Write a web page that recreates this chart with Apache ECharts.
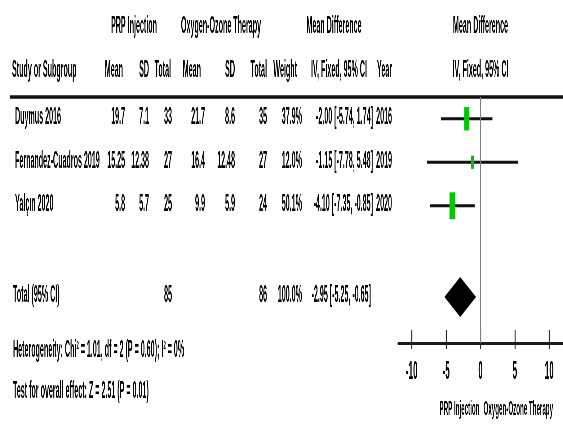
<!DOCTYPE html>
<html>
<head>
<meta charset="utf-8">
<script src="https://cdn.jsdelivr.net/npm/echarts@6/dist/echarts.min.js"></script>
<style>
html,body{margin:0;padding:0;background:#fff;overflow:hidden;width:563px;height:425px;}
#chart{height:425px;transform-origin:0 0;}
</style>
</head>
<body>
<div id="chart"></div>
<script>
// ---- data ----
const studies = ['Duymus 2016', 'Fernandez-Cuadros 2019', 'Yalçın 2020'];
const prpMean = ['19.7', '15.25', '5.8'];
const prpSD = ['7.1', '12.38', '5.7'];
const prpTotal = [33, 27, 25];
const ozoneMean = ['21.7', '16.4', '9.9'];
const ozoneSD = ['8.6', '12.48', '5.9'];
const ozoneTotal = [35, 27, 24];
const weights = [37.9, 12.0, 50.1];
const meanDiff = [-2.00, -1.15, -4.10];
const ciLow = [-5.74, -7.78, -7.35];
const ciHigh = [1.74, 5.48, -0.85];
const years = [2016, 2019, 2020];
const totalPrp = 85;
const totalOzone = 86;
const totalWeight = 100.0;
const totalMD = -2.95;
const totalLow = -5.25;
const totalHigh = -0.65;
const xTicks = [-10, -5, 0, 5, 10];
const heterogeneity = 'Heterogeneity: Chi² = 1.01, df = 2 (P = 0.60); I² = 0%';
const overallEffect = 'Test for overall effect: Z = 2.51 (P = 0.01)';
const leftLabel = 'PRP Injection';
const rightLabel = 'Oxygen-Ozone Therapy';

// ---- layout ----
const S = 0.31;             // horizontal condensation of the picture
const W = 563 / S;
const X = v => v / S;       // picture px -> internal px
const rowPos = [0.5, 1.5, 2.5];
const totalRow = 4.6;
const FONT = '"Liberation Sans", Arial, sans-serif';
const FS = 23;
const SH = 2.2;             // horizontal text thickening
const el = document.getElementById('chart');
el.style.width = W + 'px';
el.style.transform = 'scaleX(' + S + ')';

const chart = echarts.init(el, null, {renderer: 'canvas'});

const fmt = v => v.toFixed(2);
const ciText = (m, l, h) => fmt(m) + ' [' + fmt(l) + ', ' + fmt(h) + ']';

const studyData = studies.map((s, i) => [rowPos[i], meanDiff[i], ciLow[i], ciHigh[i], weights[i]]);
const gridBox = {left: X(398), right: 0, top: 97, bottom: 82, containLabel: false};

chart.setOption({
  animation: false,
  grid: [Object.assign({}, gridBox), Object.assign({}, gridBox)],
  xAxis: [{
    gridIndex: 0, type: 'value', min: -12, max: 12, position: 'bottom',
    axisLine: {show: true, onZero: false, lineStyle: {color: '#1a1a1a', width: 3}},
    axisTick: {show: true, inside: true, length: 13, customValues: xTicks, lineStyle: {color: '#222', width: 1 / S}},
    axisLabel: {show: true, customValues: xTicks, margin: 16, fontSize: 26, fontFamily: FONT, fontWeight: 'bold', color: '#000',
      textShadowColor: '#000', textShadowOffsetX: SH, textShadowBlur: 0},
    splitLine: {show: false}
  }, {
    gridIndex: 1, type: 'value', min: -12, max: 12, position: 'bottom',
    axisLine: {show: false, onZero: false},
    axisTick: {show: true, inside: false, length: 6, customValues: xTicks, lineStyle: {color: '#222', width: 1 / S}},
    axisLabel: {show: false},
    splitLine: {show: false}
  }],
  yAxis: [
    {gridIndex: 0, type: 'value', min: 0, max: 246 / 43.5, inverse: true, show: false},
    {gridIndex: 1, type: 'value', min: 0, max: 1, show: false}
  ],
  series: [{
    type: 'custom',
    xAxisIndex: 0, yAxisIndex: 0,
    data: studyData,
    encode: {x: [1, 2, 3], y: 0},
    renderItem: function (params, api) {
      const row = api.value(0), m = api.value(1), lo = api.value(2), hi = api.value(3), w = api.value(4);
      const p0 = api.coord([lo, row]);
      const p1 = api.coord([hi, row]);
      const pc = api.coord([m, row]);
      const h = 3.8 * Math.sqrt(w);
      const bw = 0.21 * h / S;
      return {
        type: 'group',
        children: [
          {type: 'line', shape: {x1: p0[0], y1: p0[1], x2: p1[0], y2: p1[1]}, style: {stroke: '#111', lineWidth: 3}},
          {type: 'rect', shape: {x: pc[0] - bw / 2, y: pc[1] - h / 2, width: bw, height: h}, style: {fill: '#00c800'}}
        ]
      };
    }
  }, {
    type: 'custom',
    xAxisIndex: 0, yAxisIndex: 0,
    data: [[totalRow, totalMD, totalLow, totalHigh]],
    encode: {x: [1, 2, 3], y: 0},
    renderItem: function (params, api) {
      const row = api.value(0), m = api.value(1), lo = api.value(2), hi = api.value(3);
      const a = api.coord([lo, row]), b = api.coord([m, row]), c = api.coord([hi, row]);
      const hh = 20;
      return {
        type: 'polygon',
        shape: {points: [[a[0], a[1]], [b[0], b[1] - hh], [c[0], c[1]], [b[0], b[1] + hh]]},
        style: {fill: '#000'}
      };
    },
    markLine: {
      silent: true, symbol: 'none', label: {show: false},
      lineStyle: {color: '#808080', width: 1 / S, type: 'solid'},
      data: [{xAxis: 0}]
    }
  }]
});

// ---- table text ----
const g = [];
function txt(str, x, y, align, size) {
  g.push({type: 'text', x: X(x), y: y, silent: true,
    style: {text: str, fill: '#000', font: 'bold ' + (size || FS) + 'px ' + FONT, textAlign: align || 'left', textVerticalAlign: 'middle',
      textShadowColor: '#000', textShadowOffsetX: SH, textShadowBlur: 0}});
}
const zeroX = chart.convertToPixel({xAxisIndex: 0}, 0) * S;

// header line 1
const h1 = 27;
txt('PRP Injection', 134, h1, 'center');
txt('Oxygen-Ozone Therapy', 221, h1, 'center');
txt('Mean Difference', 334, h1, 'center');
txt('Mean Difference', zeroX, h1, 'center');
// header line 2
const h2 = 71;
txt('Study or Subgroup', 12, h2, 'left');
const hdr2 = ['Mean', 'SD', 'Total', 'Mean', 'SD', 'Total', 'Weight', 'IV, Fixed, 95% CI', 'Year'];
const hdr2X = [123, 149, 171, 201, 235, 267, 297, 367, 392];
hdr2.forEach((t, i) => txt(t, hdr2X[i], h2, 'right'));
txt('IV, Fixed, 95% CI', zeroX, h2, 'center');

// separator line
g.push({type: 'line', silent: true, shape: {x1: X(10), y1: 97, x2: W, y2: 97}, style: {stroke: '#111', lineWidth: 3.5}});

// data rows
const colX = [125, 149, 172, 205, 235, 267, 302, 373, 392];
studies.forEach((s, i) => {
  const y = chart.convertToPixel({yAxisIndex: 0}, rowPos[i]) - 1;
  txt(s, 15, y, 'left');
  const cells = [prpMean[i], prpSD[i], String(prpTotal[i]), ozoneMean[i], ozoneSD[i], String(ozoneTotal[i]),
    weights[i].toFixed(1) + '%', ciText(meanDiff[i], ciLow[i], ciHigh[i]), String(years[i])];
  cells.forEach((c, j) => txt(c, colX[j], y, 'right'));
});
// total row
const ty = chart.convertToPixel({yAxisIndex: 0}, totalRow) - 1;
txt('Total (95% CI)', 13, ty, 'left');
txt(String(totalPrp), colX[2], ty, 'right');
txt(String(totalOzone), colX[5], ty, 'right');
txt(totalWeight.toFixed(1) + '%', colX[6], ty, 'right');
txt(ciText(totalMD, totalLow, totalHigh), colX[7] - 2, ty, 'right');

// footnotes
txt(heterogeneity, 13, 351, 'left');
txt(overallEffect, 13, 392, 'left');

// axis side labels
txt(leftLabel, zeroX - 1, 409, 'right', 20);
txt(rightLabel, zeroX + 3, 409, 'left', 20);

chart.setOption({graphic: {elements: g}});
</script>
</body>
</html>
